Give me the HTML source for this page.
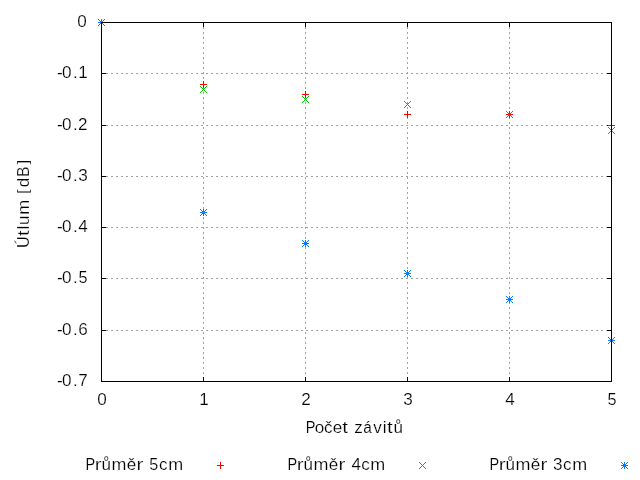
<!DOCTYPE html>
<html><head><meta charset="utf-8"><title>plot</title>
<style>
html,body{margin:0;padding:0;background:#fff;}
body{width:640px;height:480px;overflow:hidden;}
svg{display:block;will-change:transform;}
text{font-family:"Liberation Sans",sans-serif;font-size:17.1px;fill:#000;stroke:#fff;stroke-width:.2px;white-space:pre;}
</style></head><body>
<svg width="640" height="480" viewBox="0 0 640 480" fill="none" stroke-width="1">
<rect width="640" height="480" fill="#fff"/>
<g stroke="#a0a0a0" stroke-dasharray="2 3" shape-rendering="crispEdges">
<path d="M101 73.5H612"/>
<path d="M101 125.5H612"/>
<path d="M101 176.5H612"/>
<path d="M101 227.5H612"/>
<path d="M101 278.5H612"/>
<path d="M101 330.5H612"/>
<path d="M203.5 22V382"/>
<path d="M305.5 22V382"/>
<path d="M407.5 22V382"/>
<path d="M509.5 22V382"/>
</g>
<g stroke="#000" shape-rendering="crispEdges">
<path d="M101 22.5H106M607 22.5H612"/>
<path d="M101 73.5H106M607 73.5H612"/>
<path d="M101 125.5H106M607 125.5H612"/>
<path d="M101 176.5H106M607 176.5H612"/>
<path d="M101 227.5H106M607 227.5H612"/>
<path d="M101 278.5H106M607 278.5H612"/>
<path d="M101 330.5H106M607 330.5H612"/>
<path d="M101 381.5H106M607 381.5H612"/>
<path d="M101.5 22V27M101.5 377V382"/>
<path d="M203.5 22V27M203.5 377V382"/>
<path d="M305.5 22V27M305.5 377V382"/>
<path d="M407.5 22V27M407.5 377V382"/>
<path d="M509.5 22V27M509.5 377V382"/>
<path d="M611.5 22V27M611.5 377V382"/>
</g>
<g>
<path d="M98 22.5H105M101.5 19V26" stroke="#ff0000" shape-rendering="crispEdges"/>
<path d="M200 84.5H207M203.5 81V88" stroke="#ff0000" shape-rendering="crispEdges"/>
<path d="M302 94.5H309M305.5 91V98" stroke="#ff0000" shape-rendering="crispEdges"/>
<path d="M404 114.5H411M407.5 111V118" stroke="#ff0000" shape-rendering="crispEdges"/>
<path d="M506 114.5H513M509.5 111V118" stroke="#ff0000" shape-rendering="crispEdges"/>
<path d="M608 125.5H615M611.5 122V129" stroke="#ff0000" shape-rendering="crispEdges"/>
<path d="M98 19L105 26M98 26L105 19" stroke="#00c000"/>
<path d="M200 86L207 93M200 93L207 86" stroke="#00c000"/>
<path d="M302 96L309 103M302 103L309 96" stroke="#00c000"/>
<path d="M404 101L411 108M404 108L411 101" stroke="#00c000"/>
<path d="M506 111L513 118M506 118L513 111" stroke="#00c000"/>
<path d="M608 127L615 134M608 134L615 127" stroke="#00c000"/>
<path d="M98 22.5H105M101.5 19V26" stroke="#0080ff" shape-rendering="crispEdges"/><path d="M98 19L105 26M98 26L105 19" stroke="#0080ff"/>
<path d="M200 212.5H207M203.5 209V216" stroke="#0080ff" shape-rendering="crispEdges"/><path d="M200 209L207 216M200 216L207 209" stroke="#0080ff"/>
<path d="M302 243.5H309M305.5 240V247" stroke="#0080ff" shape-rendering="crispEdges"/><path d="M302 240L309 247M302 247L309 240" stroke="#0080ff"/>
<path d="M404 273.5H411M407.5 270V277" stroke="#0080ff" shape-rendering="crispEdges"/><path d="M404 270L411 277M404 277L411 270" stroke="#0080ff"/>
<path d="M506 299.5H513M509.5 296V303" stroke="#0080ff" shape-rendering="crispEdges"/><path d="M506 296L513 303M506 303L513 296" stroke="#0080ff"/>
<path d="M608 340.5H615M611.5 337V344" stroke="#0080ff" shape-rendering="crispEdges"/><path d="M608 337L615 344M608 344L615 337" stroke="#0080ff"/>
</g>
<path d="M101.5 22.5H611.5V381.5H101.5Z" stroke="#000" shape-rendering="crispEdges"/>
<text x="77.29" y="27">0</text>
<text x="57.05 62.04 73.07 78.17" y="78">-0.1</text>
<text x="57.05 62.04 73.07 78.05" y="130">-0.2</text>
<text x="57.05 62.04 73.07 78.29" y="181">-0.3</text>
<text x="57.05 62.04 73.07 78.26" y="232">-0.4</text>
<text x="57.05 62.04 73.07" y="283">-0.</text><text transform="translate(78.44 283) scale(0.95 1)" x="0.00">5</text>
<text x="57.05 62.04 73.07 78.26" y="335">-0.6</text>
<text x="57.05 62.04 73.07 78.23" y="386">-0.7</text>
<text x="97.34" y="405">0</text>
<text x="199.25" y="405">1</text>
<text x="301.13" y="405">2</text>
<text x="403.36" y="405">3</text>
<text x="505.34" y="405">4</text>
<text transform="translate(607.52 405) scale(0.95 1)" x="0.00">5</text>
<text transform="translate(305.65 433) scale(0.85 1)" x="0.00">P</text><text x="314.79 323.98 332.65" y="433">oče</text><text transform="translate(342.24 433) scale(1.2 1)" x="0.00">t </text><text x="354.34" y="433">z</text><text transform="translate(363.15 433) scale(0.9 1)" x="0.00">á</text><text x="373.27 382.70" y="433">vi</text><text transform="translate(387.12 433) scale(1.2 1)" x="0.00">t</text><text x="393.57" y="433">ů</text>
<g transform="rotate(-90)">
<text transform="translate(-248.07 29.35) scale(0.95 1)" x="0.00">Ú</text><text transform="translate(-236.01 29.35) scale(1.2 1)" x="0.00">t</text><text x="-229.58 -225.09" y="29.35">lu</text><text transform="translate(-214.72 29.35) scale(1.05 1)" x="0.00">m </text><text transform="translate(-193.95 28.27) scale(1 0.9)">[</text><text x="-187.37" y="29.35">d</text><text transform="translate(-176.74 29.35) scale(0.9 1)" x="0.00">B</text><text transform="translate(-164.50 28.27) scale(1 0.9)">]</text>
</g>
<text transform="translate(85.47 470) scale(0.85 1)" x="0.00">P</text><text transform="translate(94.80 470) scale(1.2 1)" x="0.00">r</text><text x="101.48" y="470">ů</text><text transform="translate(111.51 470) scale(1.05 1)" x="0.00">m</text><text x="126.77" y="470">ě</text><text transform="translate(136.40 470) scale(1.2 1)" x="0.00">r </text><text transform="translate(149.25 470) scale(0.95 1)" x="0.00">5</text><text x="158.96" y="470">c</text><text transform="translate(168.33 470) scale(1.05 1)" x="0.00">m</text>
<path d="M217 465.5H224M220.5 462V469" stroke="#ff0000" shape-rendering="crispEdges"/>
<text transform="translate(287.47 470) scale(0.85 1)" x="0.00">P</text><text transform="translate(296.80 470) scale(1.2 1)" x="0.00">r</text><text x="303.48" y="470">ů</text><text transform="translate(313.51 470) scale(1.05 1)" x="0.00">m</text><text x="328.77" y="470">ě</text><text transform="translate(338.40 470) scale(1.2 1)" x="0.00">r </text><text x="351.51 361.23" y="470">4c</text><text transform="translate(370.37 470) scale(1.05 1)" x="0.00">m</text>
<path d="M419 462L426 469M419 469L426 462" stroke="#00c000"/>
<text transform="translate(489.47 470) scale(0.85 1)" x="0.00">P</text><text transform="translate(498.80 470) scale(1.2 1)" x="0.00">r</text><text x="505.48" y="470">ů</text><text transform="translate(515.51 470) scale(1.05 1)" x="0.00">m</text><text x="530.77" y="470">ě</text><text transform="translate(540.40 470) scale(1.2 1)" x="0.00">r </text><text x="553.11 562.97" y="470">3c</text><text transform="translate(572.33 470) scale(1.05 1)" x="0.00">m</text>
<path d="M621 465.5H628M624.5 462V469" stroke="#0080ff" shape-rendering="crispEdges"/><path d="M621 462L628 469M621 469L628 462" stroke="#0080ff"/>
</svg></body></html>
